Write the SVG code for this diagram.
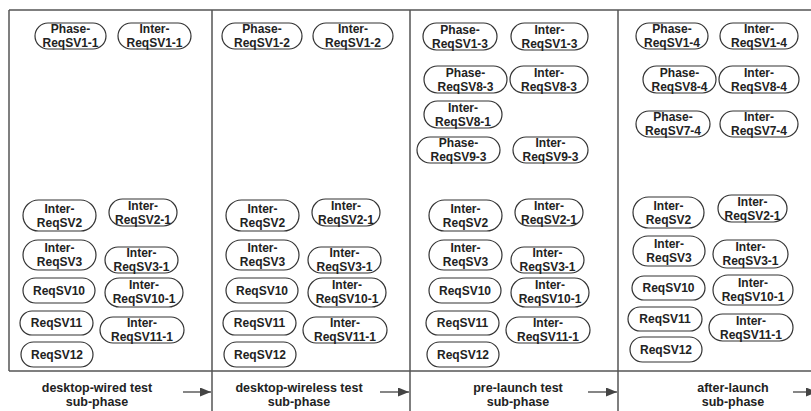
<svg xmlns="http://www.w3.org/2000/svg" width="811" height="411" viewBox="0 0 811 411">
<style>
.n rect{fill:#fff;stroke:#333;stroke-width:1.2}
.n text,.lbl{font-family:"Liberation Sans",Arial,sans-serif;font-weight:bold;font-size:12px;text-anchor:middle;fill:#222}
.lbl{font-size:12.5px}
.frame{stroke:#555;stroke-width:1.5;fill:none}
.arr{stroke:#444;stroke-width:1.3;fill:none}
</style>
<defs>
<marker id="ah" viewBox="0 0 10 10" refX="10" refY="5" markerWidth="11" markerHeight="9" markerUnits="userSpaceOnUse" orient="auto" preserveAspectRatio="none">
<path d="M0,0 L10,5 L0,10 Z" fill="#444"/>
</marker>
</defs>
<rect width="811" height="411" fill="#fff"/>
<g id="frame">
<path class="frame" d="M9,10 H811 M9,10 V371 M9,371 H811 M212,10 V411 M410,10 V411 M618,10 V411"/>
</g>
<g id="connectors">
<line class="arr" x1="183" y1="392" x2="211" y2="392" marker-end="url(#ah)"/>
<line class="arr" x1="380" y1="392" x2="409" y2="392" marker-end="url(#ah)"/>
<line class="arr" x1="588" y1="392" x2="617" y2="392" marker-end="url(#ah)"/>
<line class="arr" x1="793" y1="392" x2="817" y2="392" marker-end="url(#ah)"/>
</g>
<g id="labels">
<text class="lbl" x="97" y="392">desktop-wired test</text>
<text class="lbl" x="97" y="406">sub-phase</text>
<text class="lbl" x="299" y="392">desktop-wireless test</text>
<text class="lbl" x="299" y="406">sub-phase</text>
<text class="lbl" x="518" y="392">pre-launch test</text>
<text class="lbl" x="518" y="406">sub-phase</text>
<text class="lbl" x="733" y="392">after-launch</text>
<text class="lbl" x="733" y="406">sub-phase</text>
</g>
<!-- column 1 top -->
<g id="phase-reqsv1-1" class="n" transform="translate(35,23)"><rect width="71" height="26" rx="13"/><text x="35.5" y="10">Phase-</text><text x="35.5" y="24">ReqSV1-1</text></g>
<g id="inter-reqsv1-1" class="n" transform="translate(118,23)"><rect width="73" height="26" rx="13"/><text x="36.5" y="10">Inter-</text><text x="36.5" y="24">ReqSV1-1</text></g>
<!-- column 2 top -->
<g id="phase-reqsv1-2" class="n" transform="translate(222,23)"><rect width="80" height="26" rx="13"/><text x="40" y="10">Phase-</text><text x="40" y="24">ReqSV1-2</text></g>
<g id="inter-reqsv1-2" class="n" transform="translate(313,23)"><rect width="80" height="26" rx="13"/><text x="40" y="10">Inter-</text><text x="40" y="24">ReqSV1-2</text></g>
<!-- column 3 top -->
<g id="phase-reqsv1-3" class="n" transform="translate(423,23)"><rect width="74" height="27" rx="13.5"/><text x="37" y="10.5">Phase-</text><text x="37" y="24.5">ReqSV1-3</text></g>
<g id="inter-reqsv1-3" class="n" transform="translate(511,23)"><rect width="77" height="27" rx="13.5"/><text x="38.5" y="10.5">Inter-</text><text x="38.5" y="24.5">ReqSV1-3</text></g>
<g id="phase-reqsv8-3" class="n" transform="translate(424,66)"><rect width="83" height="27" rx="13.5"/><text x="41.5" y="10.5">Phase-</text><text x="41.5" y="24.5">ReqSV8-3</text></g>
<g id="inter-reqsv8-3" class="n" transform="translate(510,66)"><rect width="78" height="27" rx="13.5"/><text x="39" y="10.5">Inter-</text><text x="39" y="24.5">ReqSV8-3</text></g>
<g id="inter-reqsv8-1" class="n" transform="translate(424,101)"><rect width="78" height="27" rx="13.5"/><text x="39" y="10.5">Inter-</text><text x="39" y="24.5">ReqSV8-1</text></g>
<g id="phase-reqsv9-3" class="n" transform="translate(417,137)"><rect width="83" height="26" rx="13"/><text x="41.5" y="10">Phase-</text><text x="41.5" y="24">ReqSV9-3</text></g>
<g id="inter-reqsv9-3" class="n" transform="translate(513,137)"><rect width="75" height="26" rx="13"/><text x="37.5" y="10">Inter-</text><text x="37.5" y="24">ReqSV9-3</text></g>
<!-- column 4 top -->
<g id="phase-reqsv1-4" class="n" transform="translate(636,23)"><rect width="72" height="26" rx="13"/><text x="36" y="10">Phase-</text><text x="36" y="24">ReqSV1-4</text></g>
<g id="inter-reqsv1-4" class="n" transform="translate(720,23)"><rect width="78" height="26" rx="13"/><text x="39" y="10">Inter-</text><text x="39" y="24">ReqSV1-4</text></g>
<g id="phase-reqsv8-4" class="n" transform="translate(643,66)"><rect width="73" height="27" rx="13.5"/><text x="36.5" y="10.5">Phase-</text><text x="36.5" y="24.5">ReqSV8-4</text></g>
<g id="inter-reqsv8-4" class="n" transform="translate(719,66)"><rect width="80" height="27" rx="13.5"/><text x="40" y="10.5">Inter-</text><text x="40" y="24.5">ReqSV8-4</text></g>
<g id="phase-reqsv7-4" class="n" transform="translate(636,111)"><rect width="74" height="26" rx="13"/><text x="37" y="10">Phase-</text><text x="37" y="24">ReqSV7-4</text></g>
<g id="inter-reqsv7-4" class="n" transform="translate(720,111)"><rect width="78" height="26" rx="13"/><text x="39" y="10">Inter-</text><text x="39" y="24">ReqSV7-4</text></g>
<!-- column 1 bottom -->
<g id="c1-inter-reqsv2" class="n" transform="translate(23,200)"><rect width="73" height="31" rx="15.5"/><text x="36.5" y="12.5">Inter-</text><text x="36.5" y="26.5">ReqSV2</text></g>
<g id="c1-inter-reqsv2-1" class="n" transform="translate(109,199)"><rect width="68" height="27" rx="13.5"/><text x="34" y="10.5">Inter-</text><text x="34" y="24.5">ReqSV2-1</text></g>
<g id="c1-inter-reqsv3" class="n" transform="translate(23,240)"><rect width="73" height="30" rx="15"/><text x="36.5" y="12">Inter-</text><text x="36.5" y="26">ReqSV3</text></g>
<g id="c1-inter-reqsv3-1" class="n" transform="translate(105,247)"><rect width="73" height="26" rx="13"/><text x="36.5" y="10">Inter-</text><text x="36.5" y="24">ReqSV3-1</text></g>
<g id="c1-reqsv10" class="n" transform="translate(23,278)"><rect width="72" height="25" rx="12.5"/><text x="36" y="16.5">ReqSV10</text></g>
<g id="c1-inter-reqsv10-1" class="n" transform="translate(105,278)"><rect width="78" height="29" rx="14.5"/><text x="39" y="11">Inter-</text><text x="39" y="25">ReqSV10-1</text></g>
<g id="c1-reqsv11" class="n" transform="translate(20,311)"><rect width="73" height="24" rx="12"/><text x="36.5" y="16">ReqSV11</text></g>
<g id="c1-inter-reqsv11-1" class="n" transform="translate(100,317)"><rect width="84" height="26" rx="13"/><text x="42" y="10">Inter-</text><text x="42" y="24">ReqSV11-1</text></g>
<g id="c1-reqsv12" class="n" transform="translate(21,342)"><rect width="72" height="25" rx="12.5"/><text x="36" y="16.5">ReqSV12</text></g>
<!-- column 2 bottom -->
<g id="c2-inter-reqsv2" class="n" transform="translate(226,200)"><rect width="73" height="31" rx="15.5"/><text x="36.5" y="12.5">Inter-</text><text x="36.5" y="26.5">ReqSV2</text></g>
<g id="c2-inter-reqsv2-1" class="n" transform="translate(312,199)"><rect width="68" height="27" rx="13.5"/><text x="34" y="10.5">Inter-</text><text x="34" y="24.5">ReqSV2-1</text></g>
<g id="c2-inter-reqsv3" class="n" transform="translate(226,240)"><rect width="73" height="30" rx="15"/><text x="36.5" y="12">Inter-</text><text x="36.5" y="26">ReqSV3</text></g>
<g id="c2-inter-reqsv3-1" class="n" transform="translate(308,247)"><rect width="73" height="26" rx="13"/><text x="36.5" y="10">Inter-</text><text x="36.5" y="24">ReqSV3-1</text></g>
<g id="c2-reqsv10" class="n" transform="translate(226,278)"><rect width="72" height="25" rx="12.5"/><text x="36" y="16.5">ReqSV10</text></g>
<g id="c2-inter-reqsv10-1" class="n" transform="translate(308,278)"><rect width="78" height="29" rx="14.5"/><text x="39" y="11">Inter-</text><text x="39" y="25">ReqSV10-1</text></g>
<g id="c2-reqsv11" class="n" transform="translate(223,311)"><rect width="73" height="24" rx="12"/><text x="36.5" y="16">ReqSV11</text></g>
<g id="c2-inter-reqsv11-1" class="n" transform="translate(303,317)"><rect width="84" height="26" rx="13"/><text x="42" y="10">Inter-</text><text x="42" y="24">ReqSV11-1</text></g>
<g id="c2-reqsv12" class="n" transform="translate(224,342)"><rect width="72" height="25" rx="12.5"/><text x="36" y="16.5">ReqSV12</text></g>
<!-- column 3 bottom -->
<g id="c3-inter-reqsv2" class="n" transform="translate(429,200)"><rect width="73" height="31" rx="15.5"/><text x="36.5" y="12.5">Inter-</text><text x="36.5" y="26.5">ReqSV2</text></g>
<g id="c3-inter-reqsv2-1" class="n" transform="translate(515,199)"><rect width="68" height="27" rx="13.5"/><text x="34" y="10.5">Inter-</text><text x="34" y="24.5">ReqSV2-1</text></g>
<g id="c3-inter-reqsv3" class="n" transform="translate(429,240)"><rect width="73" height="30" rx="15"/><text x="36.5" y="12">Inter-</text><text x="36.5" y="26">ReqSV3</text></g>
<g id="c3-inter-reqsv3-1" class="n" transform="translate(511,247)"><rect width="73" height="26" rx="13"/><text x="36.5" y="10">Inter-</text><text x="36.5" y="24">ReqSV3-1</text></g>
<g id="c3-reqsv10" class="n" transform="translate(429,278)"><rect width="72" height="25" rx="12.5"/><text x="36" y="16.5">ReqSV10</text></g>
<g id="c3-inter-reqsv10-1" class="n" transform="translate(511,278)"><rect width="78" height="29" rx="14.5"/><text x="39" y="11">Inter-</text><text x="39" y="25">ReqSV10-1</text></g>
<g id="c3-reqsv11" class="n" transform="translate(426,311)"><rect width="73" height="24" rx="12"/><text x="36.5" y="16">ReqSV11</text></g>
<g id="c3-inter-reqsv11-1" class="n" transform="translate(506,317)"><rect width="84" height="26" rx="13"/><text x="42" y="10">Inter-</text><text x="42" y="24">ReqSV11-1</text></g>
<g id="c3-reqsv12" class="n" transform="translate(427,342)"><rect width="72" height="25" rx="12.5"/><text x="36" y="16.5">ReqSV12</text></g>
<!-- column 4 bottom -->
<g id="c4-inter-reqsv2" class="n" transform="translate(633,197)"><rect width="71" height="31" rx="15.5"/><text x="35.5" y="12.5">Inter-</text><text x="35.5" y="26.5">ReqSV2</text></g>
<g id="c4-inter-reqsv2-1" class="n" transform="translate(718,195)"><rect width="69" height="27" rx="13.5"/><text x="34.5" y="10.5">Inter-</text><text x="34.5" y="24.5">ReqSV2-1</text></g>
<g id="c4-inter-reqsv3" class="n" transform="translate(633,236)"><rect width="72" height="30" rx="15"/><text x="36" y="12">Inter-</text><text x="36" y="26">ReqSV3</text></g>
<g id="c4-inter-reqsv3-1" class="n" transform="translate(713,240)"><rect width="75" height="28" rx="14"/><text x="37.5" y="11">Inter-</text><text x="37.5" y="25">ReqSV3-1</text></g>
<g id="c4-reqsv10" class="n" transform="translate(632,276)"><rect width="73" height="24" rx="12"/><text x="36.5" y="16">ReqSV10</text></g>
<g id="c4-inter-reqsv10-1" class="n" transform="translate(713,275)"><rect width="80" height="30" rx="15"/><text x="40" y="11.5">Inter-</text><text x="40" y="25.5">ReqSV10-1</text></g>
<g id="c4-reqsv11" class="n" transform="translate(628,307)"><rect width="74" height="24" rx="12"/><text x="37" y="16">ReqSV11</text></g>
<g id="c4-inter-reqsv11-1" class="n" transform="translate(709,314)"><rect width="84" height="27" rx="13.5"/><text x="42" y="10.5">Inter-</text><text x="42" y="24.5">ReqSV11-1</text></g>
<g id="c4-reqsv12" class="n" transform="translate(630,337)"><rect width="72" height="25" rx="12.5"/><text x="36" y="16.5">ReqSV12</text></g>
</svg>
